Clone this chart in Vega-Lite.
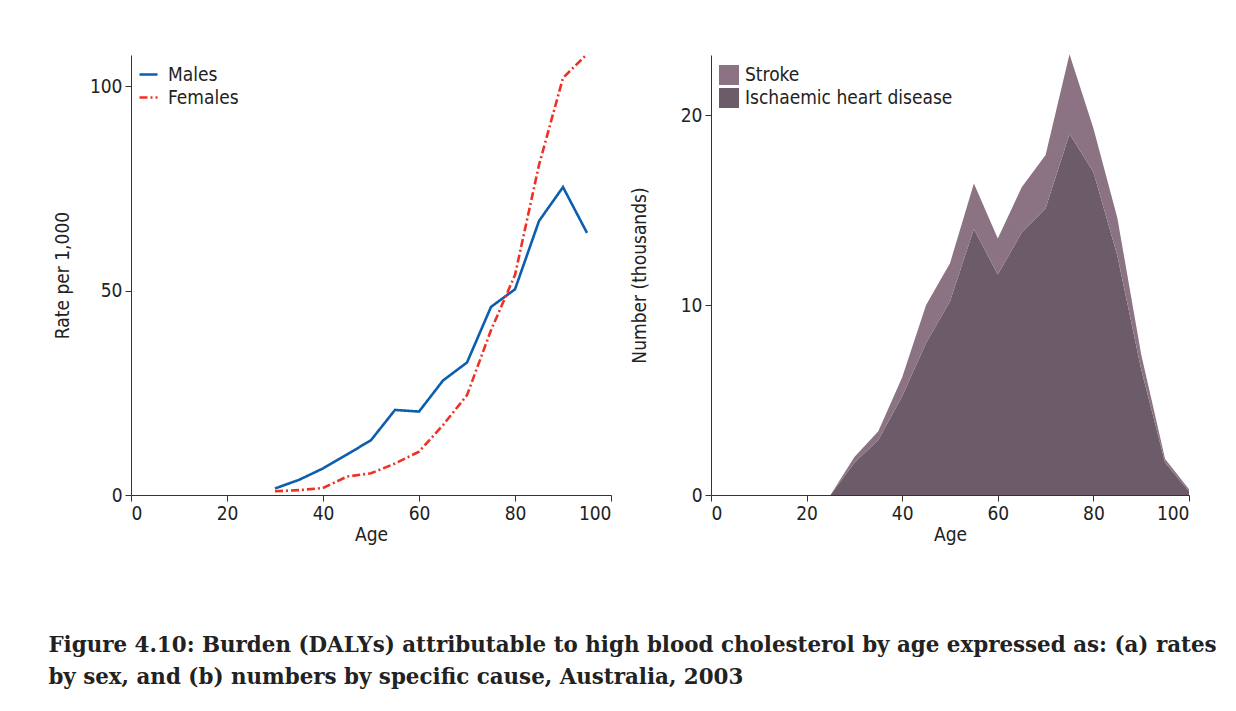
{
  "$schema": "https://vega.github.io/schema/vega-lite/v6.json",
  "autosize": {"type": "pad"},
  "padding": {"left": 48, "top": 48, "right": 5, "bottom": 5},
  "background": "white",
  "bounds": "flush",
  "spacing": 100,
  "resolve": {"scale": {"color": "independent", "strokeDash": "independent"}, "legend": {"color": "independent"}},
  "title": {
    "text": [
      "Figure 4.10: Burden (DALYs) attributable to high blood cholesterol by age expressed as: (a) rates",
      "by sex, and (b) numbers by specific cause, Australia, 2003"
    ],
    "orient": "bottom",
    "anchor": "start",
    "frame": "bounds",
    "offset": 91,
    "dx": -5,
    "font": "DejaVu Serif",
    "fontSize": 21.4,
    "fontWeight": "bold",
    "color": "#222222",
    "lineHeight": 32
  },
  "config": {
    "font": "DejaVu Sans Condensed",
    "view": {"stroke": null},
    "axis": {
      "domainColor": "#333333",
      "tickColor": "#333333",
      "tickSize": 6,
      "grid": false,
      "labelFont": "DejaVu Sans Condensed",
      "labelFontSize": 19,
      "labelColor": "#222222",
      "labelPadding": 3,
      "titleFont": "DejaVu Sans Condensed",
      "titleFontSize": 19,
      "titleFontWeight": "normal",
      "titleColor": "#222222"
    },
    "legend": {
      "labelFont": "DejaVu Sans Condensed",
      "labelFontSize": 19,
      "labelColor": "#222222",
      "labelLimit": 400,
      "title": null,
      "padding": 0
    }
  },
  "datasets": {
    "rates": [
      {"age": 30, "sex": "Males", "rate": 1.6},
      {"age": 35, "sex": "Males", "rate": 3.7},
      {"age": 40, "sex": "Males", "rate": 6.5},
      {"age": 45, "sex": "Males", "rate": 9.9},
      {"age": 50, "sex": "Males", "rate": 13.4},
      {"age": 55, "sex": "Males", "rate": 20.8},
      {"age": 60, "sex": "Males", "rate": 20.4},
      {"age": 65, "sex": "Males", "rate": 28.0},
      {"age": 70, "sex": "Males", "rate": 32.4},
      {"age": 75, "sex": "Males", "rate": 46.0},
      {"age": 80, "sex": "Males", "rate": 50.3},
      {"age": 85, "sex": "Males", "rate": 67.0},
      {"age": 90, "sex": "Males", "rate": 75.3},
      {"age": 95, "sex": "Males", "rate": 64.1},
      {"age": 30, "sex": "Females", "rate": 0.9},
      {"age": 35, "sex": "Females", "rate": 1.2},
      {"age": 40, "sex": "Females", "rate": 1.7},
      {"age": 45, "sex": "Females", "rate": 4.5},
      {"age": 50, "sex": "Females", "rate": 5.3},
      {"age": 55, "sex": "Females", "rate": 7.7},
      {"age": 60, "sex": "Females", "rate": 10.6},
      {"age": 65, "sex": "Females", "rate": 17.1},
      {"age": 70, "sex": "Females", "rate": 24.4},
      {"age": 75, "sex": "Females", "rate": 40.3},
      {"age": 80, "sex": "Females", "rate": 53.8},
      {"age": 85, "sex": "Females", "rate": 80.7},
      {"age": 90, "sex": "Females", "rate": 102.0},
      {"age": 95, "sex": "Females", "rate": 107.8}
    ],
    "numbers": [
      {"age": 0, "cause": "Ischaemic heart disease", "order": 1, "n": 0},
      {"age": 5, "cause": "Ischaemic heart disease", "order": 1, "n": 0},
      {"age": 10, "cause": "Ischaemic heart disease", "order": 1, "n": 0},
      {"age": 15, "cause": "Ischaemic heart disease", "order": 1, "n": 0},
      {"age": 20, "cause": "Ischaemic heart disease", "order": 1, "n": 0},
      {"age": 25, "cause": "Ischaemic heart disease", "order": 1, "n": 0},
      {"age": 30, "cause": "Ischaemic heart disease", "order": 1, "n": 1.7},
      {"age": 35, "cause": "Ischaemic heart disease", "order": 1, "n": 2.9},
      {"age": 40, "cause": "Ischaemic heart disease", "order": 1, "n": 5.2},
      {"age": 45, "cause": "Ischaemic heart disease", "order": 1, "n": 8.0},
      {"age": 50, "cause": "Ischaemic heart disease", "order": 1, "n": 10.2},
      {"age": 55, "cause": "Ischaemic heart disease", "order": 1, "n": 14.0},
      {"age": 60, "cause": "Ischaemic heart disease", "order": 1, "n": 11.6},
      {"age": 65, "cause": "Ischaemic heart disease", "order": 1, "n": 13.8},
      {"age": 70, "cause": "Ischaemic heart disease", "order": 1, "n": 15.1},
      {"age": 75, "cause": "Ischaemic heart disease", "order": 1, "n": 19.0},
      {"age": 80, "cause": "Ischaemic heart disease", "order": 1, "n": 17.0},
      {"age": 85, "cause": "Ischaemic heart disease", "order": 1, "n": 12.6},
      {"age": 90, "cause": "Ischaemic heart disease", "order": 1, "n": 6.6},
      {"age": 95, "cause": "Ischaemic heart disease", "order": 1, "n": 1.7},
      {"age": 100, "cause": "Ischaemic heart disease", "order": 1, "n": 0.2},
      {"age": 0, "cause": "Stroke", "order": 2, "n": 0},
      {"age": 5, "cause": "Stroke", "order": 2, "n": 0},
      {"age": 10, "cause": "Stroke", "order": 2, "n": 0},
      {"age": 15, "cause": "Stroke", "order": 2, "n": 0},
      {"age": 20, "cause": "Stroke", "order": 2, "n": 0},
      {"age": 25, "cause": "Stroke", "order": 2, "n": 0},
      {"age": 30, "cause": "Stroke", "order": 2, "n": 0.3},
      {"age": 35, "cause": "Stroke", "order": 2, "n": 0.45},
      {"age": 40, "cause": "Stroke", "order": 2, "n": 1.0},
      {"age": 45, "cause": "Stroke", "order": 2, "n": 2.0},
      {"age": 50, "cause": "Stroke", "order": 2, "n": 2.0},
      {"age": 55, "cause": "Stroke", "order": 2, "n": 2.4},
      {"age": 60, "cause": "Stroke", "order": 2, "n": 1.9},
      {"age": 65, "cause": "Stroke", "order": 2, "n": 2.4},
      {"age": 70, "cause": "Stroke", "order": 2, "n": 2.8},
      {"age": 75, "cause": "Stroke", "order": 2, "n": 4.2},
      {"age": 80, "cause": "Stroke", "order": 2, "n": 2.3},
      {"age": 85, "cause": "Stroke", "order": 2, "n": 2.0},
      {"age": 90, "cause": "Stroke", "order": 2, "n": 0.8},
      {"age": 95, "cause": "Stroke", "order": 2, "n": 0.2},
      {"age": 100, "cause": "Stroke", "order": 2, "n": 0.1}
    ]
  },
  "hconcat": [
    {
      "width": 480,
      "height": 440,
      "data": {"name": "rates"},
      "mark": {"type": "line", "strokeWidth": 2.6},
      "encoding": {
        "x": {
          "field": "age", "type": "quantitative", "title": "Age",
          "scale": {"domain": [0, 100], "nice": false},
          "axis": {"values": [0, 20, 40, 60, 80, 100], "titlePadding": 2}
        },
        "y": {
          "field": "rate", "type": "quantitative", "title": "Rate per 1,000",
          "scale": {"domain": [0, 107.6], "nice": false},
          "axis": {"values": [0, 50, 100], "titlePadding": 17}
        },
        "color": {
          "field": "sex", "type": "nominal",
          "scale": {"domain": ["Males", "Females"], "range": ["#0b5fae", "#ee3124"]},
          "legend": {
            "orient": "none", "legendX": 7, "legendY": 9, "symbolType": "stroke",
            "symbolSize": 324, "symbolStrokeWidth": 2.6, "labelOffset": 9,
            "rowPadding": 2
          }
        },
        "strokeDash": {
          "field": "sex", "type": "nominal",
          "scale": {"domain": ["Males", "Females"], "range": [[1, 0], [8, 3, 2, 3]]}
        }
      }
    },
    {
      "width": 478,
      "height": 440,
      "data": {"name": "numbers"},
      "mark": {"type": "area", "opacity": 1},
      "encoding": {
        "x": {
          "field": "age", "type": "quantitative", "title": "Age",
          "scale": {"domain": [0, 100], "nice": false},
          "axis": {"values": [0, 20, 40, 60, 80, 100], "titlePadding": 2}
        },
        "y": {
          "field": "n", "type": "quantitative", "title": "Number (thousands)",
          "stack": "zero",
          "scale": {"domain": [0, 23.16], "nice": false},
          "axis": {"values": [0, 10, 20], "titlePadding": 31}
        },
        "order": {"field": "order", "type": "quantitative"},
        "color": {
          "field": "cause", "type": "nominal",
          "scale": {"domain": ["Stroke", "Ischaemic heart disease"], "range": ["#8b7384", "#6c5b68"]},
          "legend": {
            "orient": "none", "legendX": 7, "legendY": 9, "symbolType": "square",
            "symbolSize": 400, "labelOffset": 5, "rowPadding": 2
          }
        }
      }
    }
  ]
}
